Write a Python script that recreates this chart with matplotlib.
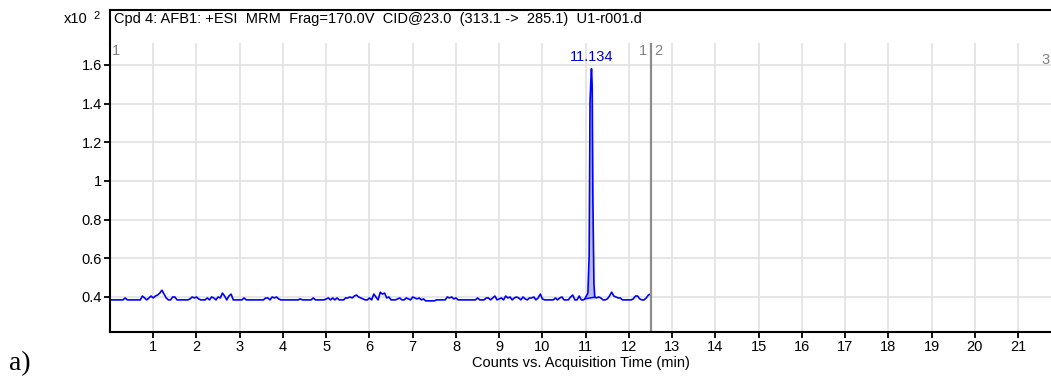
import matplotlib
matplotlib.use('Agg')
import matplotlib.pyplot as plt
import numpy as np

# chromatogram trace, counts (x10^2 on axis), sampled every 0.05 min
base_step = 0.05
base_counts = [
    # 0.00 - 0.95
    38.5, 38.5, 38.5, 38.5, 38.5, 38.5, 38.5, 39.5, 38.5, 38.5,
    38.5, 38.5, 38.5, 38.5, 38.5, 40.5, 39.5, 38.5, 39.5, 40.5,
    # 1.00 - 1.95
    39.5, 40.5, 41, 42, 43.5, 41.5, 39.5, 38.5, 38.5, 40,
    40, 38.5, 38.5, 38.5, 38.5, 38.5, 38.5, 39, 40, 39.5,
    # 2.00 - 2.95
    40, 39, 38.5, 38.5, 38.5, 39.5, 38.5, 40, 39.5, 38.5,
    40, 39.5, 42, 40.5, 38.5, 40.5, 41.5, 38.5, 38.5, 38.5,
    # 3.00 - 3.95
    38.5, 38.5, 39.5, 38.5, 38.5, 38.5, 38.5, 38.5, 38.5, 38.5,
    38.5, 38.5, 39.5, 39.5, 38.5, 40, 39.5, 40, 39, 38.5,
    # 4.00 - 4.95
    38.5, 38.5, 38.5, 38.5, 38.5, 38.5, 38.5, 38.5, 39, 38.5,
    38.5, 38.5, 38.5, 38.5, 39.5, 38.5, 38.5, 38.5, 38.5, 38.5,
    # 5.00 - 5.95
    39, 39.5, 38.5, 39.5, 38.5, 39.5, 38.5, 38.5, 38.5, 39.5,
    39.5, 40, 39.5, 40.5, 41, 40, 39.5, 39, 38.5, 38.5,
    # 6.00 - 6.95
    39.5, 38.5, 41.5, 40, 38.5, 42.5, 41.5, 42, 39.5, 40,
    38.5, 38.5, 38.5, 39, 39.5, 38.5, 38.5, 39.5, 39, 38.5,
    # 7.00 - 7.95
    40, 39.5, 39, 39.5, 38.5, 39, 38, 38, 38, 38,
    38, 38.5, 38.5, 38.5, 38.5, 38.5, 40, 39.5, 40, 39,
    # 8.00 - 8.95
    39.5, 38.5, 38.5, 38.5, 38.5, 38.5, 38.5, 38.5, 38.5, 38.5,
    39.5, 38.5, 38.5, 38.5, 39.5, 39.5, 38.5, 39.5, 40.5, 38.5,
    # 9.00 - 9.95
    39, 39.5, 38.5, 40.5, 39.5, 40, 38.5, 39.5, 40, 39.5,
    38.5, 40, 39, 38.5, 39.5, 39.5, 40, 38.5, 39.5, 41.5,
    # 10.00 - 10.95
    39, 38.5, 38.5, 38.5, 38.5, 38.5, 39.5, 38.5, 39.5, 40,
    38.5, 38.5, 38.5, 40, 41, 38.5, 38.5, 40.5, 38.5, 38.5,
    # 11.00 - 11.95
    40, 40.5, 40, 40, 40, 39.5, 40, 39.5, 38.5, 38.5,
    39, 40.5, 42.5, 40.5, 40, 39.5, 39.5, 38.5, 38.5, 38.5,
    # 12.00 - 12.50
    38.5, 38.5, 39, 40.5, 40.5, 39, 38.5, 38.5, 39.5, 41, 41.5,
]

# finer points across the AFB1 peak
peak_time = [10.98, 11.05, 11.08, 11.10, 11.12, 11.134, 11.15, 11.165, 11.19, 11.21]
peak_counts = [39, 42, 61, 141, 152, 158, 149, 93, 47, 40]
peak_rt = '11.134'

x_ticks = list(range(1, 22))
y_ticks = [0.4, 0.6, 0.8, 1.0, 1.2, 1.4, 1.6]
y_tick_labels = ['0.4', '0.6', '0.8', '1', '1.2', '1.4', '1.6']
segment_end = 12.5

title = 'Cpd 4: AFB1: +ESI  MRM  Frag=170.0V  CID@23.0  (313.1 ->  285.1)  U1-r001.d'

plt.rcParams['font.family'] = ['Liberation Sans', 'DejaVu Sans']
fs = 10.5

base_time = np.round(np.arange(len(base_counts)) * base_step, 3)
keep = (base_time < peak_time[0]) | (base_time > peak_time[-1])
time = np.concatenate([base_time[keep], peak_time])
counts = np.concatenate([np.array(base_counts)[keep], peak_counts])
order = np.argsort(time)
time = time[order]
signal = counts[order] / 100.0

W, H = 1051, 378
fig = plt.figure(figsize=(W / 100, H / 100), dpi=100)

ax = fig.add_axes([110 / W, 1 - 332 / H, 941 / W, 289 / H])
hdr = fig.add_axes([110 / W, 1 - 43 / H, 941 / W, 33 / H])

# header strip with the compound title
hdr.set_xlim(0, 1)
hdr.set_ylim(0, 1)
hdr.set_xticks([])
hdr.set_yticks([])
for s in ['right', 'bottom']:
    hdr.spines[s].set_visible(False)
for s in ['left', 'top']:
    hdr.spines[s].set_linewidth(1.5)
hdr.text(0.004, 0.72, title, fontsize=fs, va='center', ha='left')

ax.set_xlim(0, 21.76)
ax.set_ylim(0.219, 1.713)
ax.set_xticks(x_ticks)
ax.set_yticks(y_ticks)
ax.set_yticklabels(y_tick_labels)
ax.grid(True, color='#e2e2e2', linewidth=1.2)
ax.set_axisbelow(True)
for s in ['right', 'top']:
    ax.spines[s].set_visible(False)
for s in ['left', 'bottom']:
    ax.spines[s].set_linewidth(1.5)
ax.tick_params(axis='both', length=4, width=1.3, labelsize=fs, pad=2)

# integrated peak area
pk = (time >= peak_time[0]) & (time <= peak_time[-1])
ax.fill_between(time[pk], signal[pk], peak_counts[0] / 100.0, color='#b8b8f4', linewidth=0)
ax.plot([peak_time[0], peak_time[-1]], [peak_counts[0] / 100.0, peak_counts[-1] / 100.0],
        color='#0000ff', linewidth=1)
ax.plot(time, signal, color='#0000ff', linewidth=1.2)
ax.text(float(peak_rt), 1.605, peak_rt, color='#0000cc', fontsize=fs, ha='center', va='bottom')

# segment markers
ax.axvline(segment_end, color='#8c8c8c', linewidth=1.6)
ax.text(0.05, 1.71, '1', color='#808080', fontsize=fs, ha='left', va='top')
ax.text(segment_end - 0.08, 1.71, '1', color='#808080', fontsize=fs, ha='right', va='top')
ax.text(segment_end + 0.08, 1.71, '2', color='#808080', fontsize=fs, ha='left', va='top')
ax.text(21.72, 1.66, '3', color='#808080', fontsize=fs, ha='right', va='top')

ax.set_xlabel('Counts vs. Acquisition Time (min)', fontsize=fs, labelpad=1)

fig.text(64 / W, 1 - 19 / H, 'x10', fontsize=fs, ha='left', va='center')
fig.text(93 / W, 1 - 16 / H, '2', fontsize=8, ha='left', va='center')
fig.text(9 / W, 1 - 364 / H, 'a)', fontsize=20, ha='left', va='center',
         family=['Liberation Serif', 'DejaVu Serif'])

fig.savefig('out.png', dpi=100)
